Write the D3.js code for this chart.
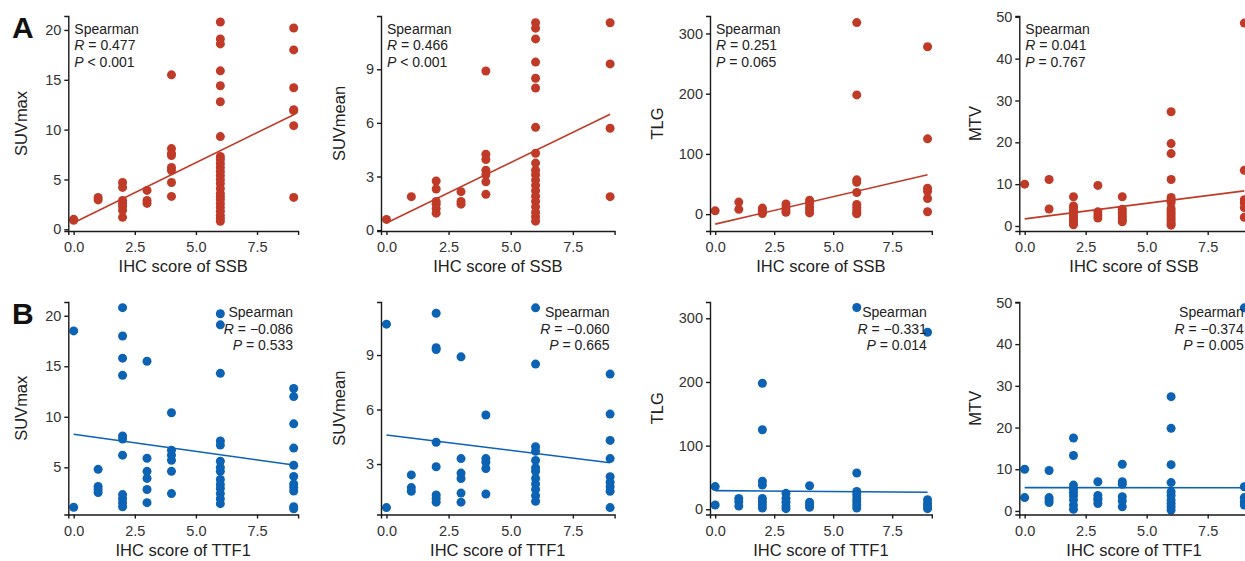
<!DOCTYPE html>
<html>
<head>
<meta charset="utf-8">
<script src="https://cdn.jsdelivr.net/npm/d3@7"></script>
<style>
  body { margin: 0; background: #fff; }
  svg { display: block; font-family: "Liberation Sans", Arial, sans-serif; }
  .tick text { fill: #333; font-size: 14.5px; }
  .domain, .tick line { stroke: #1a1a1a; stroke-width: 1.4px; }
</style>
</head>
<body>
<svg id="chart" width="1245" height="561"></svg>
<script>
// IHC score levels (x values)
const scoreLevels = [0, 1, 2, 3, 4, 6, 9];
const xTicks = [0, 2.5, 5, 7.5];

// values grouped by score level
const ssbSuvmax = [
  [1.0, 0.9],
  [3.2, 2.95],
  [4.7, 4.2, 2.9, 2.6, 2.3, 1.9, 1.2],
  [3.9, 2.9, 2.6],
  [15.5, 8.1, 7.6, 7.4, 6.2, 5.9, 4.7, 3.3],
  [20.8, 19.1, 18.6, 15.9, 14.4, 12.8, 9.3, 7.3, 7.0, 6.6, 6.2, 5.8, 5.4, 5.0, 4.6, 4.1, 3.6, 3.3, 3.0, 2.6, 2.2, 1.8, 1.4, 1.1, 0.8],
  [20.2, 18.0, 14.2, 12.0, 11.9, 10.4, 3.2]
];
const ssbSuvmean = [
  [0.6],
  [1.87],
  [2.75, 2.3, 1.6, 1.45, 1.2, 0.95],
  [2.15, 1.6, 1.45],
  [8.9, 4.25, 3.95, 3.35, 3.1, 2.7, 2.0],
  [11.6, 11.3, 10.7, 9.4, 8.5, 7.95, 5.75, 4.3, 3.75, 3.35, 3.1, 2.8, 2.5, 2.2, 1.9, 1.6, 1.3, 1.0, 0.75, 0.5],
  [11.6, 9.3, 5.7, 1.87]
];
const ssbTlg = [
  [5.5],
  [20, 8],
  [10, 7, 4, 1],
  [17, 12, 7, 3],
  [23, 18, 12, 7, 2],
  [318, 198, 57, 53, 36, 16, 11, 6, 2, 0.5],
  [278, 125, 43, 38, 26, 4]
];
const ssbMtv = [
  [10.0],
  [11.1, 4.05],
  [7.0, 4.8, 4.3, 3.7, 3.1, 2.5, 1.9, 1.3, 0.7, 0.3],
  [9.7, 3.4, 2.6, 1.9],
  [7.0, 4.0, 3.3, 2.6, 2.0, 1.4, 1.0],
  [27.3, 19.7, 17.3, 11.1, 6.8, 6.2, 5.6, 4.2, 3.6, 3.0, 2.4, 1.8, 1.2, 0.6, 0.2],
  [48.5, 13.3, 6.3, 5.5, 4.4, 2.1]
];
const ttf1Suvmax = [
  [18.5, 1.05],
  [4.8, 3.1, 2.8, 2.5],
  [20.8, 18.0, 15.8, 14.1, 8.1, 7.8, 6.2, 2.3, 1.9, 1.5, 1.1],
  [15.5, 5.9, 4.6, 3.9, 2.8, 1.5],
  [10.4, 6.7, 6.2, 5.7, 4.6, 2.4],
  [20.2, 19.1, 14.3, 7.6, 7.2, 5.6, 5.0, 4.6, 3.8, 3.3, 2.9, 2.4, 1.9, 1.4],
  [12.8, 12.0, 9.3, 6.9, 5.2, 4.1, 3.35, 3.0, 2.65, 1.1, 0.9]
];
const ttf1Suvmean = [
  [10.7, 0.6],
  [2.4, 1.7, 1.5],
  [11.3, 9.4, 9.3, 4.2, 2.85, 1.3, 1.1, 0.9],
  [8.9, 3.3, 2.5, 2.2, 1.4, 0.9],
  [5.7, 3.3, 3.1, 2.75, 1.35],
  [11.6, 8.5, 3.95, 3.7, 3.2, 2.8, 2.6, 2.2, 1.9, 1.6, 1.25, 0.95],
  [7.95, 5.75, 4.3, 3.3, 2.3, 2.0, 1.75, 1.5, 0.6]
];
const ttf1Tlg = [
  [35.6, 6.8],
  [17, 12, 5],
  [198, 125, 44, 38, 17, 12, 7, 2],
  [25, 17, 11, 5, 1],
  [37, 11, 7, 3],
  [317, 57, 28, 23, 17, 12, 7, 2],
  [278, 15, 9, 5, 1]
];
const ttf1Mtv = [
  [10.0, 3.2],
  [9.7, 3.2, 2.6, 2.0],
  [17.5, 13.3, 6.2, 5.2, 4.4, 3.6, 2.6, 1.4, 0.4],
  [7.0, 3.7, 3.0, 2.6, 1.8],
  [11.2, 7.0, 6.4, 3.4, 2.4, 1.0],
  [27.4, 19.8, 11.1, 6.8, 4.6, 3.7, 2.6, 1.8, 1.0, 0.2],
  [48.7, 5.8, 3.2, 2.2, 1.4]
];

// fitted line values at x = 0 and x = 9
const fitX = [0, 9];
const ssbFits = [[0.65, 11.5], [0.4, 6.48], [-16.6, 65.3], [1.7, 8.4]];
const ttf1Fits = [[8.27, 5.23], [4.6, 3.07], [29.3, 26.7], [5.6, 5.55]];

// Spearman R and P text
const ssbStats = [["0.477", "< 0.001"], ["0.466", "< 0.001"], ["0.251", "= 0.065"], ["0.041", "= 0.767"]];
const ttf1Stats = [["\u22120.086", "= 0.533"], ["\u22120.060", "= 0.665"], ["\u22120.331", "= 0.014"], ["\u22120.374", "= 0.005"]];

const yLabels = ["SUVmax", "SUVmean", "TLG", "MTV"];
const suvmaxTicksA = [0, 5, 10, 15, 20];
const suvmaxTicksB = [5, 10, 15, 20];
const suvmeanTicksA = [0, 3, 6, 9];
const suvmeanTicksB = [3, 6, 9];
const tlgTicks = [0, 100, 200, 300];
const mtvTicks = [0, 10, 20, 30, 40, 50];

const red = "#c03a28";
const blue = "#0c62b3";

// layout
const cols = [
  { left: 68.3, width: 229.8, titleOff: 41 },
  { left: 381, width: 233.6, titleOff: 36 },
  { left: 710, width: 221.8, titleOff: 47 },
  { left: 1019.3, width: 229.4, titleOff: 38 }
];
const rows = [
  { top: 16, bottom: 231, letter: "A", gene: "SSB", color: red, anchor: "start" },
  { top: 302, bottom: 514.5, letter: "B", gene: "TTF1", color: blue, anchor: "end" }
];

const panels = [
  { row: 0, col: 0, values: ssbSuvmax, fit: ssbFits[0], stats: ssbStats[0], ticks: suvmaxTicksA, yDomain: [-0.17, 21.4] },
  { row: 0, col: 1, values: ssbSuvmean, fit: ssbFits[1], stats: ssbStats[1], ticks: suvmeanTicksA, yDomain: [-0.05, 11.98] },
  { row: 0, col: 2, values: ssbTlg, fit: ssbFits[2], stats: ssbStats[2], ticks: tlgTicks, yDomain: [-28, 329] },
  { row: 0, col: 3, values: ssbMtv, fit: ssbFits[3], stats: ssbStats[3], ticks: mtvTicks, yDomain: [-1.2, 50.2] },
  { row: 1, col: 0, values: ttf1Suvmax, fit: ttf1Fits[0], stats: ttf1Stats[0], ticks: suvmaxTicksB, yDomain: [0.33, 21.36] },
  { row: 1, col: 1, values: ttf1Suvmean, fit: ttf1Fits[1], stats: ttf1Stats[1], ticks: suvmeanTicksB, yDomain: [0.22, 11.92] },
  { row: 1, col: 2, values: ttf1Tlg, fit: ttf1Fits[2], stats: ttf1Stats[2], ticks: tlgTicks, yDomain: [-8.2, 325.6] },
  { row: 1, col: 3, values: ttf1Mtv, fit: ttf1Fits[3], stats: ttf1Stats[3], ticks: mtvTicks, yDomain: [-0.85, 50.1] }
];

const svg = d3.select("#chart");

panels.forEach(p => {
  const c = cols[p.col], r = rows[p.row];
  const right = c.left + c.width;

  const x = d3.scaleLinear().domain([-0.22, 9.18]).range([c.left, right]);
  const y = d3.scaleLinear().domain(p.yDomain).range([r.bottom, r.top]);

  const g = svg.append("g");

  // points
  const pts = [];
  p.values.forEach((vals, i) => vals.forEach(v => pts.push({ x: scoreLevels[i], y: v })));
  g.selectAll("circle")
    .data(pts)
    .join("circle")
    .attr("cx", d => x(d.x))
    .attr("cy", d => y(d.y))
    .attr("r", 4.5)
    .attr("fill", r.color);

  // fitted line
  const line = d3.line().x(d => x(d[0])).y(d => y(d[1]));
  g.append("path")
    .datum(fitX.map((v, i) => [v, p.fit[i]]))
    .attr("d", line)
    .attr("fill", "none")
    .attr("stroke", r.color)
    .attr("stroke-width", 1.6);

  // axes
  g.append("g")
    .attr("transform", `translate(0,${r.bottom})`)
    .call(d3.axisBottom(x).tickValues(xTicks).tickFormat(d3.format(".1f")).tickSizeOuter(0).tickSize(4).tickPadding(7));
  g.append("g")
    .attr("transform", `translate(${c.left},0)`)
    .call(d3.axisLeft(y).tickValues(p.ticks).tickSizeOuter(0).tickSize(4).tickPadding(3));

  // axis titles
  g.append("text")
    .attr("x", (c.left + right) / 2)
    .attr("y", r.bottom + 41)
    .attr("text-anchor", "middle")
    .attr("font-size", 16.5)
    .attr("fill", "#222")
    .text("IHC score of " + r.gene);
  g.append("text")
    .attr("transform", `translate(${c.left - c.titleOff},${(r.top + r.bottom) / 2}) rotate(-90)`)
    .attr("text-anchor", "middle")
    .attr("font-size", 16.5)
    .attr("fill", "#222")
    .text(yLabels[p.col]);

  // stats annotation
  const ax = r.anchor === "start" ? c.left + 6 : right - 5;
  const ay = r.anchor === "start" ? r.top + 17.5 : r.top + 15;
  const t = g.append("text")
    .attr("text-anchor", r.anchor)
    .attr("font-size", 14)
    .attr("fill", "#222");
  t.append("tspan").attr("x", ax).attr("y", ay).text("Spearman");
  const l2 = t.append("tspan").attr("x", ax).attr("y", ay + 16.5);
  l2.append("tspan").attr("font-style", "italic").text("R");
  l2.append("tspan").text(" = " + p.stats[0]);
  const l3 = t.append("tspan").attr("x", ax).attr("y", ay + 33);
  l3.append("tspan").attr("font-style", "italic").text("P");
  l3.append("tspan").text(" " + p.stats[1]);
});

// panel letters
rows.forEach(r => {
  svg.append("text")
    .attr("x", 12)
    .attr("y", r.top + 22)
    .attr("font-size", 30)
    .attr("font-weight", "bold")
    .attr("fill", "#111")
    .text(r.letter);
});
</script>
</body>
</html>
